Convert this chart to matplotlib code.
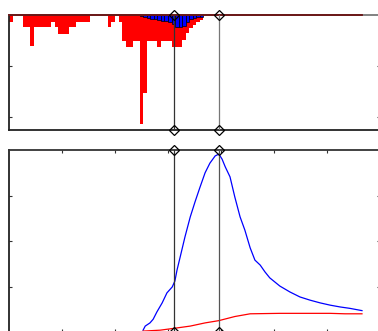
import numpy as np
import matplotlib
matplotlib.use("Agg")
import matplotlib.pyplot as plt

# top panel: binned counts hanging down from zero (bin width 1/15)
bin_w = 1 / 15
red_depth = [1.3, 0, 0, 0, 2.4, 2.4, 6.1, 2.4, 2.4, 2.4,
             2.4, 2.4, 1.4, 2.4, 3.7, 3.8, 3.7, 2.4, 2.4, 1.3,
             1.3, 1.3, 1.3, 0, 0, 0, 0, 0, 2.4, 1.4,
             0, 1.4, 5.1, 6.3, 6.3, 5.1, 5.1, 21.4, 15.3, 5.1,
             5.1, 5.1, 6.3, 5.1, 5.1, 5.1, 6.3, 6.3, 6.3, 4.9,
             3.5, 2.5, 2.0, 1.4, 1.0]
blue_start = 37
blue_depth = [0.2, 0.4, 0.5, 0.7, 0.8, 1.0, 1.1, 1.2, 1.4, 1.8,
              2.4, 2.4, 2.2, 1.4, 0.8, 0.5, 0.4, 0.3]

# bottom panel curves
blue_x = [2.53, 2.57, 2.66, 2.72, 2.79, 2.89, 2.98, 3.08, 3.13, 3.17,
          3.23, 3.32, 3.42, 3.51, 3.60, 3.70, 3.79, 3.89, 3.96, 4.02,
          4.08, 4.17, 4.26, 4.36, 4.45, 4.55, 4.64, 4.74, 4.83, 4.92,
          5.11, 5.30, 5.49, 5.68, 5.87, 6.06, 6.25, 6.43, 6.66]
blue_y = [0.04, 0.13, 0.20, 0.28, 0.44, 0.64, 0.86, 0.99, 1.12, 1.36,
          1.65, 2.09, 2.53, 2.86, 3.17, 3.50, 3.71, 3.87, 3.91, 3.80,
          3.63, 3.41, 2.97, 2.53, 2.24, 1.85, 1.58, 1.47, 1.32, 1.19,
          1.01, 0.88, 0.77, 0.70, 0.64, 0.59, 0.55, 0.52, 0.47]
red_x = [2.53, 2.85, 3.11, 3.42, 3.70, 3.96, 4.26, 4.55, 5.11, 6.06, 6.34, 6.66]
red_y = [0.02, 0.04, 0.08, 0.13, 0.20, 0.25, 0.34, 0.40, 0.41, 0.41, 0.40, 0.40]

markers_x = [3.113, 3.962]

fig = plt.figure(figsize=(3.78, 3.31), dpi=100)
ax1 = fig.add_axes([9/378, 1-130/331, 371/378, 115/331])
ax2 = fig.add_axes([9/378, 1-332/331, 371/378, 182/331])

# top panel
red_left = np.arange(len(red_depth)) * bin_w
ax1.bar(red_left, -np.array(red_depth), width=bin_w, align='edge',
        color='red', linewidth=0)
blue_left = (blue_start + np.arange(len(blue_depth))) * bin_w
ax1.bar(blue_left, -np.array(blue_depth), width=bin_w, align='edge',
        color='blue', edgecolor='black', linewidth=0.5)
ax1.plot([0, blue_x[-1]], [0, 0], color='#6a1010', lw=1.3, clip_on=False, zorder=5)
ax1.set_xlim(0, 7)
ax1.set_ylim(-22.5, 0)
ax1.set_xticks([])
ax1.set_yticks([-10, -20])

# bottom panel
ax2.plot(blue_x, blue_y, color='blue', lw=0.9)
ax2.plot(red_x, red_y, color='red', lw=0.9)
ax2.set_xlim(0, 7)
ax2.set_ylim(0, 4)
ax2.set_xticks([1, 2, 3, 4, 5, 6])
ax2.set_yticks([1, 2, 3])

for ax, cols in ((ax1, ['#333333', '#777777']), (ax2, ['#333333', '#555555'])):
    lo, hi = ax.get_ylim()
    for xv, c in zip(markers_x, cols):
        ax.plot([xv, xv], [lo, hi], color=c, lw=0.9, zorder=6)
        ax.plot([xv, xv], [lo, hi], ls='none', marker='D', ms=5.5, mfc='none',
                mec='black', mew=0.9, clip_on=False, zorder=7)
    ax.tick_params(direction='in', length=2.5, width=0.8, color='#333333',
                   labelleft=False, labelbottom=False, top=True, right=True)
    for s in ax.spines.values():
        s.set_linewidth(1.3)
        s.set_color('#222222')

ax1.spines['top'].set_color('#777777')
ax2.spines['top'].set_color('#333333')

plt.savefig("out.png", dpi=100)
